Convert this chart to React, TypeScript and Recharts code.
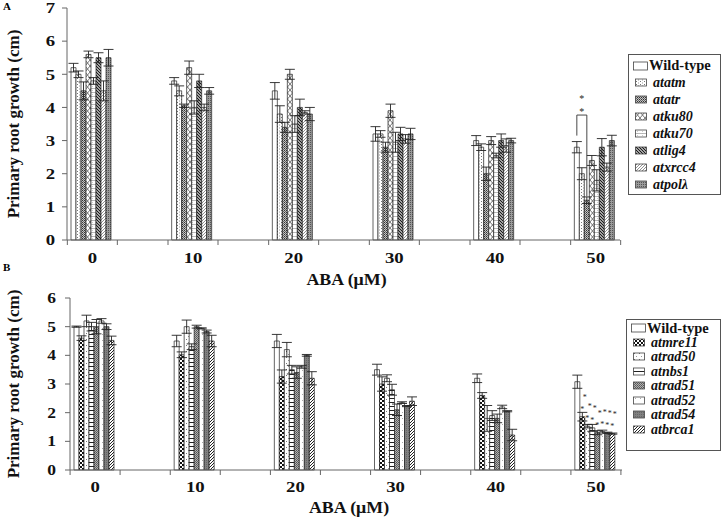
import React from "react";
import { BarChart, Bar, XAxis, YAxis, ErrorBar, LabelList } from "recharts";

const categories = ["0", "10", "20", "30", "40", "50"];

// panel A: NHEJ / checkpoint mutants
const wildTypeA = [5.2, 4.8, 4.5, 3.2, 3.0, 2.8];
const atatm = [5.0, 4.5, 3.8, 3.2, 2.8, 2.0];
const atatr = [4.5, 4.05, 3.4, 2.8, 2.0, 1.2];
const atku80 = [5.6, 5.2, 5.0, 3.9, 3.0, 2.4];
const atku70 = [4.8, 4.0, 3.5, 2.95, 2.55, 1.8];
const atlig4 = [5.5, 4.8, 4.0, 3.2, 3.0, 2.8];
const atxrcc4 = [4.5, 4.0, 3.85, 3.05, 2.85, 2.2];
const atpol = [5.5, 4.5, 3.8, 3.2, 3.0, 3.0];

const errWildTypeA = [0.13, 0.1, 0.25, 0.22, 0.15, 0.17];
const errAtatm = [0.1, 0.15, 0.25, 0.1, 0.1, 0.18];
const errAtatr = [0.27, 0.05, 0.15, 0.15, 0.2, 0.1];
const errAtku80 = [0.1, 0.2, 0.15, 0.2, 0.12, 0.15];
const errAtku70 = [0.1, 0.2, 0.25, 0.3, 0.07, 0.32];
const errAtlig4 = [0.15, 0.2, 0.25, 0.2, 0.2, 0.26];
const errAtxrcc4 = [0.3, 0.1, 0.05, 0.13, 0.2, 0.12];
const errAtpol = [0.25, 0.1, 0.2, 0.17, 0.07, 0.16];

// panel B: MRN / HR mutants
const wildTypeB = [5.0, 4.5, 4.5, 3.5, 3.2, 3.08];
const atmre11 = [4.6, 4.02, 3.26, 3.0, 2.6, 1.86];
const atrad50 = [5.2, 5.0, 4.2, 3.2, 1.8, 1.53];
const atnbs1 = [5.0, 4.3, 3.5, 2.8, 1.9, 1.47];
const atrad51 = [5.0, 5.0, 3.4, 2.1, 1.8, 1.3];
const atrad52 = [5.2, 4.94, 3.6, 2.35, 2.2, 1.34];
const atrad54 = [5.0, 4.83, 4.0, 2.23, 2.05, 1.3];
const atbrca1 = [4.52, 4.5, 3.2, 2.4, 1.22, 1.27];

const errWildTypeB = [0.02, 0.2, 0.23, 0.19, 0.15, 0.23];
const errAtmre11 = [0.08, 0.1, 0.23, 0.25, 0.1, 0.15];
const errAtrad50 = [0.2, 0.23, 0.25, 0.12, 0.45, 0.06];
const errAtnbs1 = [0.15, 0.1, 0.15, 0.19, 0.17, 0.12];
const errAtrad51 = [0.25, 0.05, 0.2, 0.2, 0.15, 0.07];
const errAtrad52 = [0.08, 0.02, 0.05, 0.03, 0.06, 0.05];
const errAtrad54 = [0.1, 0.05, 0.03, 0.02, 0.02, 0.02];
const errAtbrca1 = [0.15, 0.2, 0.23, 0.15, 0.2, 0.02];

const ticksA = [0, 1, 2, 3, 4, 5, 6, 7];
const ticksB = [0, 1, 2, 3, 4, 5, 6];

// significance marks (values on the y scale)
const bracketA = { index: 5, top: 3.77, leftEnd: 3.15, rightEnd: 1.32, stars: [4.31, 3.92] };
const starsB = { index: 5, gap: [0.3, 0.72] };

const FONT = "'Liberation Serif', 'Times New Roman', serif";

const seriesA = [
  { name: "Wild-type", values: wildTypeA, errors: errWildTypeA, fill: "#ffffff" },
  { name: "atatm", values: atatm, errors: errAtatm, fill: "url(#pAtatm)" },
  { name: "atatr", values: atatr, errors: errAtatr, fill: "url(#pAtatr)" },
  { name: "atku80", values: atku80, errors: errAtku80, fill: "url(#pAtku80)" },
  { name: "atku70", values: atku70, errors: errAtku70, fill: "url(#pAtku70)" },
  { name: "atlig4", values: atlig4, errors: errAtlig4, fill: "url(#pAtlig4)" },
  { name: "atxrcc4", values: atxrcc4, errors: errAtxrcc4, fill: "url(#pAtxrcc4)" },
  { name: "atpolλ", values: atpol, errors: errAtpol, fill: "url(#pAtpol)" },
];

const seriesB = [
  { name: "Wild-type", values: wildTypeB, errors: errWildTypeB, fill: "#ffffff" },
  { name: "atmre11", values: atmre11, errors: errAtmre11, fill: "url(#pAtmre11)" },
  { name: "atrad50", values: atrad50, errors: errAtrad50, fill: "url(#pAtrad50)" },
  { name: "atnbs1", values: atnbs1, errors: errAtnbs1, fill: "url(#pAtnbs1)" },
  { name: "atrad51", values: atrad51, errors: errAtrad51, fill: "url(#pAtrad51)" },
  { name: "atrad52", values: atrad52, errors: errAtrad52, fill: "url(#pAtrad52)" },
  { name: "atrad54", values: atrad54, errors: errAtrad54, fill: "url(#pAtrad54)" },
  { name: "atbrca1", values: atbrca1, errors: errAtbrca1, fill: "url(#pAtbrca1)" },
];

const buildRows = (series) =>
  categories.map((aba, i) => {
    const row = { aba };
    series.forEach((s, k) => {
      row["s" + k] = s.values[i];
      row["e" + k] = s.errors[i];
    });
    return row;
  });

const rowsA = buildRows(seriesA);
const rowsB = buildRows(seriesB);

const PatternsA = () => (
  <defs>
    <pattern id="pAtatm" width="4" height="3" patternUnits="userSpaceOnUse">
      <rect width="4" height="3" fill="#fff" />
      <rect x="1" y="0" width="1" height="1" fill="#777" />
      <rect x="3" y="1.5" width="1" height="1" fill="#999" />
    </pattern>
    <pattern id="pAtatr" width="2" height="2" patternUnits="userSpaceOnUse">
      <rect width="2" height="2" fill="#c4c4c4" />
      <rect width="1" height="1" fill="#333" />
      <rect x="1" y="1" width="1" height="1" fill="#666" />
    </pattern>
    <pattern id="pAtku80" width="5" height="6" patternUnits="userSpaceOnUse">
      <rect width="5" height="6" fill="#fff" />
      <path d="M0,0 L5,6 M5,0 L0,6" stroke="#555" strokeWidth="0.8" />
    </pattern>
    <pattern id="pAtku70" width="5" height="4" patternUnits="userSpaceOnUse">
      <rect width="5" height="4" fill="#fff" />
      <path d="M0,0.5 H5" stroke="#999" strokeWidth="0.7" />
      <path d="M2.5,0 V4" stroke="#aaa" strokeWidth="0.6" strokeDasharray="1 1" />
    </pattern>
    <pattern id="pAtlig4" width="3" height="3" patternUnits="userSpaceOnUse">
      <rect width="3" height="3" fill="#ddd" />
      <path d="M-1,-1 L4,4 M-1,2 L1,4 M2,-1 L4,1" stroke="#111" strokeWidth="1.1" />
    </pattern>
    <pattern id="pAtxrcc4" width="3" height="3" patternUnits="userSpaceOnUse">
      <rect width="3" height="3" fill="#fff" />
      <path d="M-1,1 L1,-1 M0,3 L3,0 M2,4 L4,2" stroke="#777" strokeWidth="0.8" />
    </pattern>
    <pattern id="pAtpol" width="2" height="2" patternUnits="userSpaceOnUse">
      <rect width="2" height="2" fill="#9a9a9a" />
      <rect width="1" height="1" fill="#555" />
    </pattern>
  </defs>
);

const PatternsB = () => (
  <defs>
    <pattern id="pAtmre11" width="4" height="4" patternUnits="userSpaceOnUse">
      <rect width="4" height="4" fill="#fff" />
      <rect width="2" height="2" fill="#111" />
      <rect x="2" y="2" width="2" height="2" fill="#111" />
    </pattern>
    <pattern id="pAtrad50" width="5" height="6" patternUnits="userSpaceOnUse">
      <rect width="5" height="6" fill="#fff" />
      <rect x="1" y="1" width="1" height="1" fill="#777" />
      <rect x="3" y="4" width="1" height="1" fill="#999" />
    </pattern>
    <pattern id="pAtnbs1" width="4" height="4" patternUnits="userSpaceOnUse">
      <rect width="4" height="4" fill="#fff" />
      <path d="M0,0.5 H4" stroke="#222" strokeWidth="1" />
    </pattern>
    <pattern id="pAtrad51" width="2" height="2" patternUnits="userSpaceOnUse">
      <rect width="2" height="2" fill="#b0b0b0" />
      <rect width="1" height="1" fill="#555" />
      <rect x="1" y="1" width="1" height="1" fill="#666" />
    </pattern>
    <pattern id="pAtrad52" width="5" height="6" patternUnits="userSpaceOnUse">
      <rect width="5" height="6" fill="#fff" />
      <rect x="2" y="2" width="1" height="1" fill="#aaa" />
    </pattern>
    <pattern id="pAtrad54" width="2" height="2" patternUnits="userSpaceOnUse">
      <rect width="2" height="2" fill="#808080" />
      <rect width="1" height="1" fill="#666" />
    </pattern>
    <pattern id="pAtbrca1" width="3" height="3" patternUnits="userSpaceOnUse">
      <rect width="3" height="3" fill="#fff" />
      <path d="M-1,1 L1,-1 M0,3 L3,0 M2,4 L4,2" stroke="#222" strokeWidth="1" />
    </pattern>
  </defs>
);

const makeXTick = (baselineDy) => (props) => {
  const { x, y, payload } = props;
  return (
    <g>
      <line x1={x - 25} x2={x - 25} y1={y} y2={y + 5} stroke="#666" />
      <line x1={x + 25} x2={x + 25} y1={y} y2={y + 5} stroke="#666" />
      <text
        transform={`translate(${x},${y + baselineDy}) scale(1.25,1)`}
        textAnchor="middle"
        fontFamily={FONT}
        fontWeight="bold"
        fontSize={15}
        fill="#111"
      >
        {payload.value}
      </text>
    </g>
  );
};

const makeYTick = (size) => (props) => {
  const { x, y, payload } = props;
  return (
    <text
      transform={`translate(${x},${y}) scale(1.25,1)`}
      textAnchor="end"
      dy="0.35em"
      fontFamily={FONT}
      fontWeight="bold"
      fontSize={size}
      fill="#111"
    >
      {payload.value}
    </text>
  );
};

const yLabel = (props) => {
  const vb = props.viewBox;
  const cx = vb.x + 13;
  const cy = vb.y + vb.height / 2;
  return (
    <text
      transform={`translate(${cx},${cy}) rotate(-90)`}
      textAnchor="middle"
      dy="0.35em"
      fontFamily={FONT}
      fontWeight="bold"
      fontSize={17}
      fill="#111"
    >
      Primary root growth (cm)
    </text>
  );
};

const makeXLabel = (dy) => (props) => {
  const vb = props.viewBox;
  return (
    <text
      transform={`translate(${vb.x + vb.width / 2 + 3},${vb.y + dy}) scale(1.12,1)`}
      textAnchor="middle"
      fontFamily={FONT}
      fontWeight="bold"
      fontSize={16}
      fill="#111"
    >
      ABA (μM)
    </text>
  );
};

const Star = ({ x, y, size }) => (
  <text x={x} y={y} textAnchor="middle" dy="0.45em" fontFamily={FONT} fontSize={size} fill="#222">
    *
  </text>
);

const bracketLabel = (props) => {
  const { x, y, width, height, value, index } = props;
  if (index !== bracketA.index || !value) return null;
  const base = y + height;
  const ppu = height / value;
  const lx = x + width / 2;
  const rx = x + width * 2.5;
  const top = base - bracketA.top * ppu;
  return (
    <g>
      <path
        d={`M${lx},${base - bracketA.leftEnd * ppu} V${top} H${rx} V${base - bracketA.rightEnd * ppu}`}
        fill="none"
        stroke="#333"
        strokeWidth={0.9}
      />
      {bracketA.stars.map((v) => (
        <Star key={v} x={x + width * 1.5} y={base - v * ppu} size={10} />
      ))}
    </g>
  );
};

const starsLabel = (props) => {
  const { x, y, width, height, value, index } = props;
  if (index !== starsB.index || !value) return null;
  const ppu = height / value;
  const cx = x + width / 2;
  return (
    <g>
      <Star x={cx} y={y - starsB.gap[0] * ppu} size={8} />
      <Star x={cx + 2.5} y={y - starsB.gap[1] * ppu} size={8} />
    </g>
  );
};

const LegendBox = ({ series, style, fontSize, rowH }) => (
  <div
    style={{
      position: "absolute",
      border: "1.5px solid #555",
      background: "#fff",
      boxSizing: "border-box",
      fontFamily: FONT,
      fontWeight: "bold",
      color: "#111",
      ...style,
    }}
  >
    {series.map((s, k) => (
      <div key={s.name} style={{ display: "flex", alignItems: "center", height: rowH, whiteSpace: "nowrap" }}>
        <svg width={k === 0 ? 15 : 13} height={10} style={{ marginLeft: k === 0 ? 4 : 6, flex: "none" }}>
          <rect x={0.5} y={1} width={k === 0 ? 14 : 11} height={k === 0 ? 8 : 7} fill={s.fill} stroke="#444" strokeWidth={0.8} />
        </svg>
        <span
          style={{
            marginLeft: k === 0 ? 1 : 5,
            fontStyle: k === 0 ? "normal" : "italic",
            fontSize: k === 0 ? fontSize + 0.5 : fontSize,
            lineHeight: rowH + "px",
          }}
        >
          {s.name}
        </span>
      </div>
    ))}
  </div>
);

const Panel = ({ rows, series, patterns, top, height, plotH, ticks, yWidth, right, padding, tickGap, yTickFont, xDy, labelDy, extraLabel, labelIndex }) => (
  <div style={{ position: "absolute", left: 0, top }}>
    <BarChart
      width={721}
      height={height}
      data={rows}
      margin={{ top: 8, right, bottom: 0, left: 0 }}
      barCategoryGap={29}
      barGap={0}
    >
      {patterns}
      <XAxis
        dataKey="aba"
        height={height - 8 - plotH}
        padding={padding}
        axisLine={{ stroke: "#666" }}
        tickLine={false}
        tickSize={0}
        tickMargin={0}
        interval={0}
        tick={makeXTick(xDy)}
        label={{ content: makeXLabel(labelDy) }}
      />
      <YAxis
        width={yWidth}
        domain={[0, ticks[ticks.length - 1]]}
        ticks={ticks}
        interval={0}
        axisLine={{ stroke: "#666" }}
        tickLine={{ stroke: "#666" }}
        tickSize={5}
        tickMargin={tickGap}
        tick={makeYTick(yTickFont)}
        label={{ content: yLabel }}
      />
      {series.map((s, k) => (
        <Bar
          key={s.name}
          dataKey={"s" + k}
          name={s.name}
          fill={s.fill}
          stroke="#222"
          strokeWidth={0.7}
          isAnimationActive={false}
        >
          <ErrorBar dataKey={"e" + k} width={5} stroke="#222" strokeWidth={0.9} direction="y" />
          {extraLabel && labelIndex(k) ? <LabelList dataKey={"s" + k} content={extraLabel} /> : null}
        </Bar>
      ))}
    </BarChart>
  </div>
);

export default function App() {
  return (
    <div style={{ position: "absolute", left: 0, top: 0, width: 721, height: 518, background: "#fff", overflow: "hidden" }}>
      <Panel
        rows={rowsA}
        series={seriesA}
        patterns={<PatternsA />}
        top={0}
        height={290}
        plotH={232}
        ticks={ticksA}
        yWidth={67}
        right={101}
        padding={{ left: -25, right: -26 }}
        tickGap={7}
        yTickFont={15}
        xDy={23}
        labelDy={45}
        extraLabel={bracketLabel}
        labelIndex={(k) => k === 0}
      />
      <Panel
        rows={rowsB}
        series={seriesB}
        patterns={<PatternsB />}
        top={290}
        height={228}
        plotH={172}
        ticks={ticksB}
        yWidth={70}
        right={99}
        padding={{ left: -25, right: -24 }}
        tickGap={9}
        yTickFont={14}
        xDy={22}
        labelDy={43}
        extraLabel={starsLabel}
        labelIndex={(k) => k > 0}
      />
      <div style={{ position: "absolute", left: 3, top: 0, fontFamily: FONT, fontWeight: "bold", fontSize: 11 }}>A</div>
      <div style={{ position: "absolute", left: 3, top: 261, fontFamily: FONT, fontWeight: "bold", fontSize: 11 }}>B</div>
      <LegendBox series={seriesA} style={{ left: 628, top: 54, width: 93, height: 141, paddingTop: 2 }} fontSize={14} rowH={17} />
      <LegendBox series={seriesB} style={{ left: 626, top: 319, width: 95, height: 132, paddingTop: 1 }} fontSize={14} rowH={14.5} />
    </div>
  );
}
